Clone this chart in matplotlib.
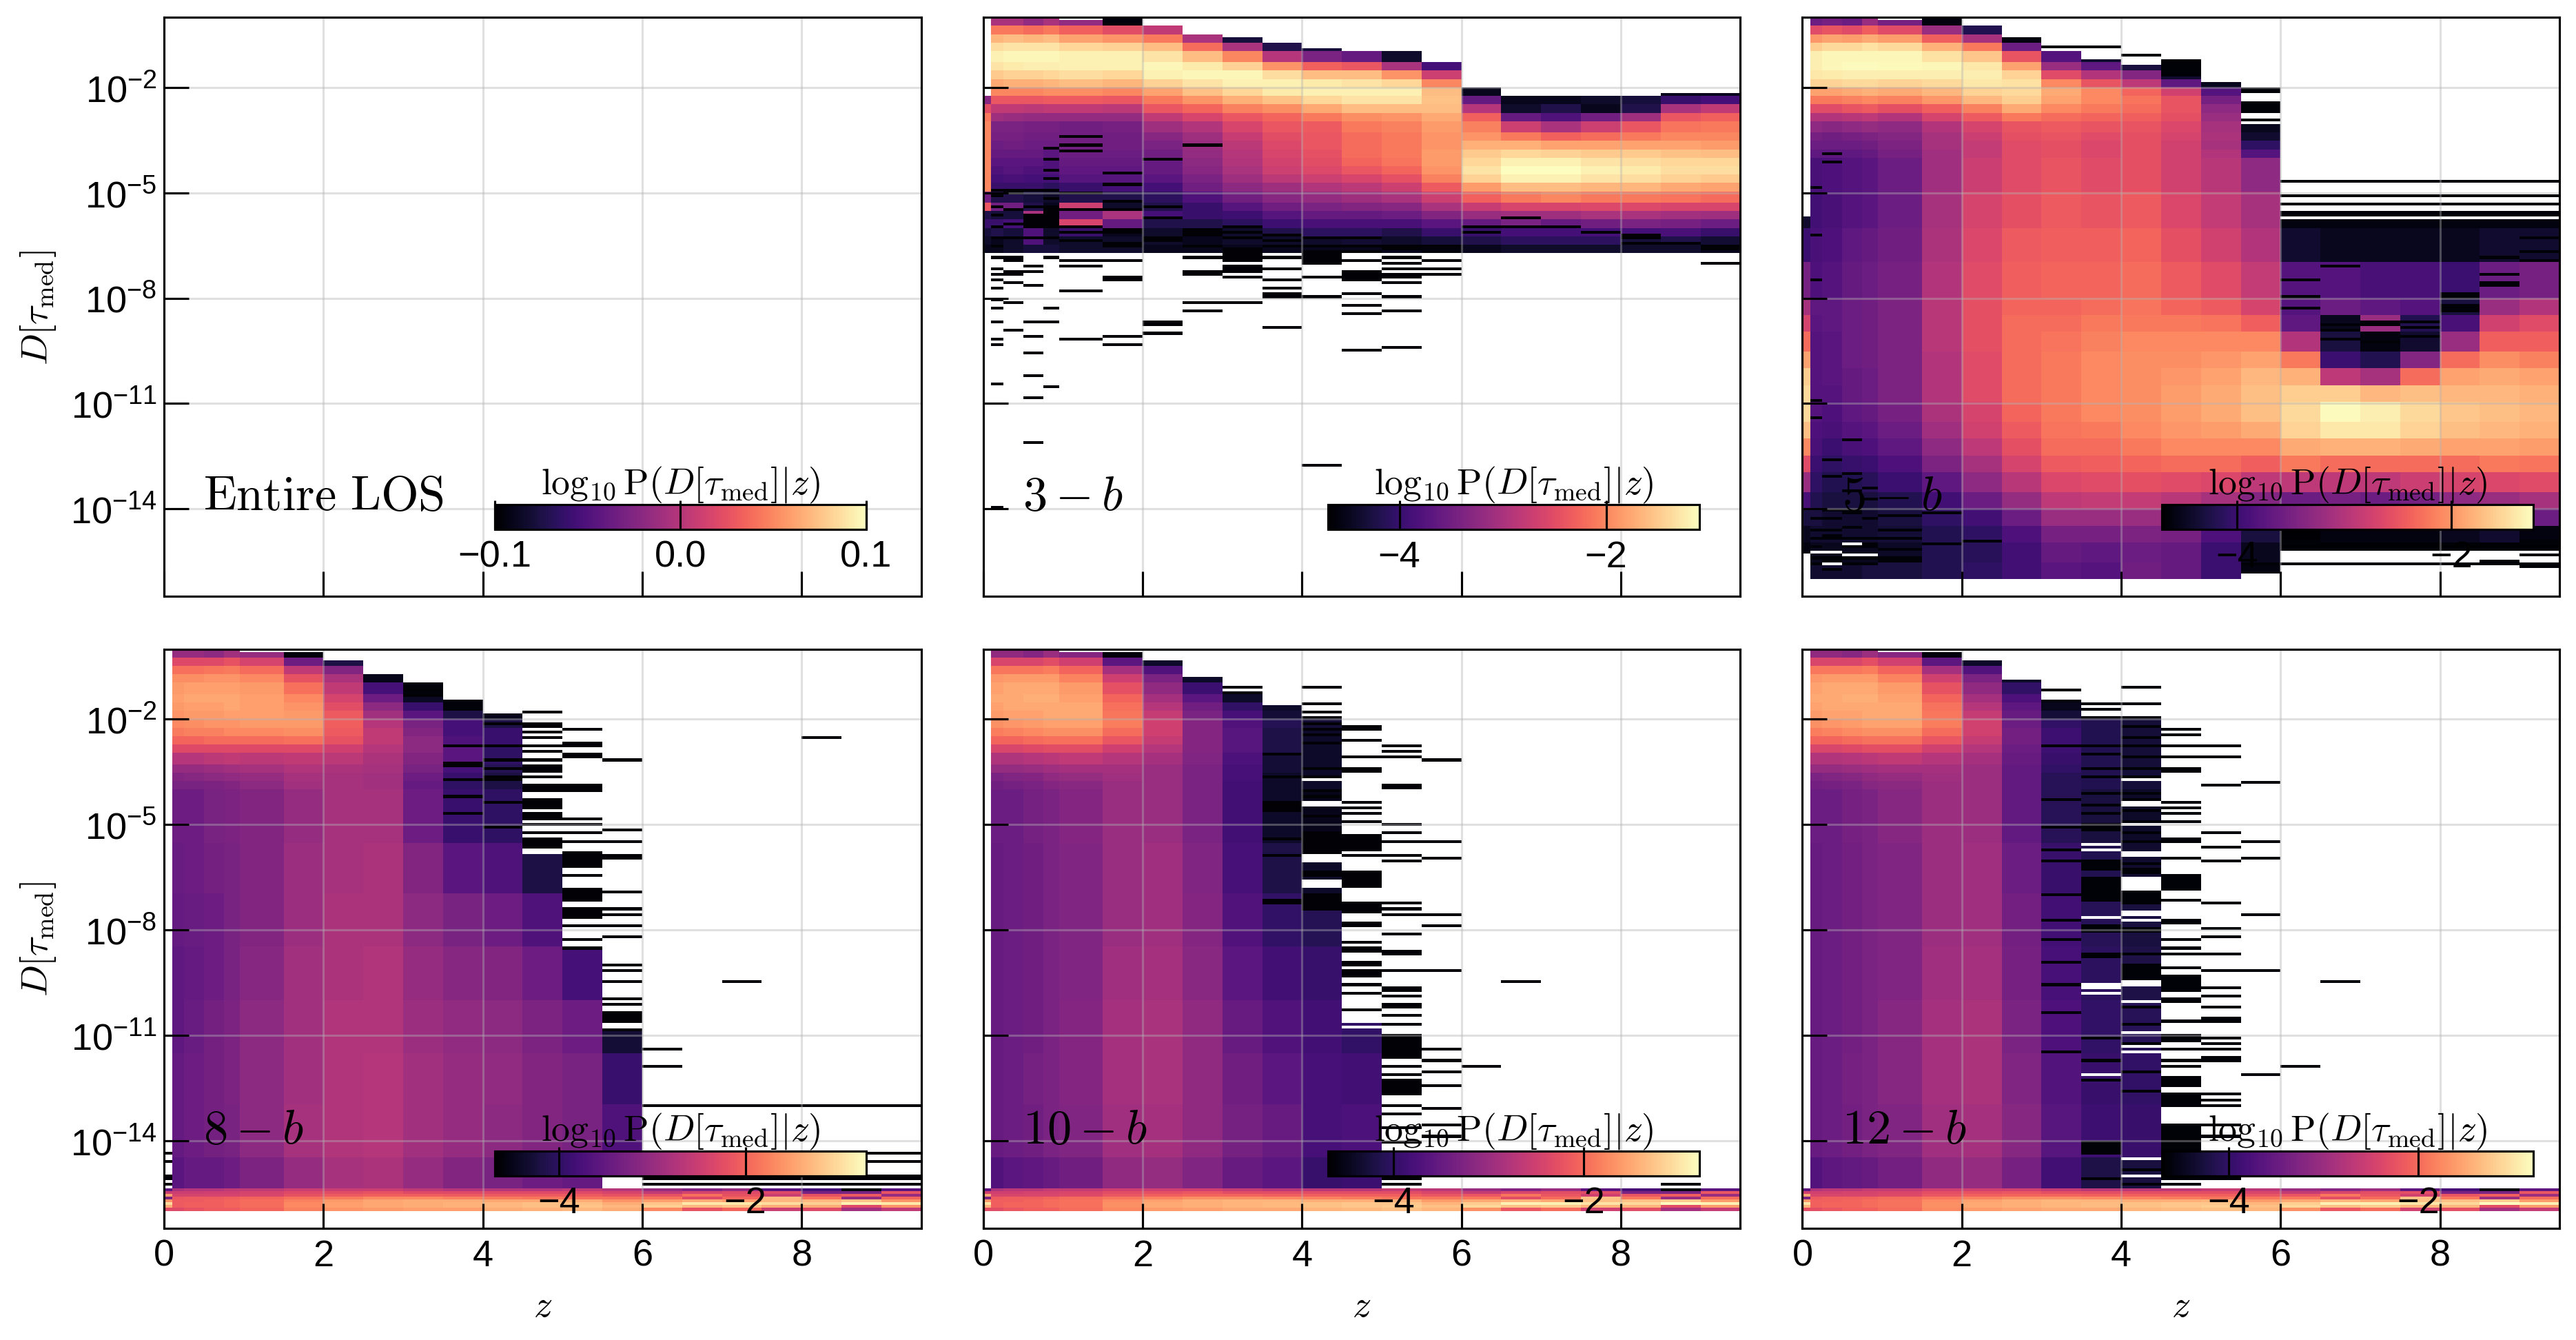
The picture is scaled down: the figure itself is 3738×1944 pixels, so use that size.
from __future__ import annotations

import matplotlib

matplotlib.use("Agg")
import numpy as np
from matplotlib import pyplot as plt
from matplotlib.cm import ScalarMappable
from matplotlib.colors import Normalize
from matplotlib.ticker import NullLocator

plt.rcParams["font.family"] = ["Liberation Sans", "DejaVu Sans"]
plt.rcParams["mathtext.fontset"] = "cm"
plt.rcParams["axes.linewidth"] = 0.75

Z_EDGES = [0, 0.1, 0.25, 0.5, 0.75, 0.95, 1.5, 2, 2.5, 3, 3.5, 4, 4.5, 5, 5.5, 6, 6.5, 7, 7.5, 8, 8.5, 9, 9.5]
ROW_STEP = 0.08
N_ROWS = 200
F = -4.6  # filler for table rows hidden by the column top

V_RANGES = [(-0.1, 0.1), (-4.69, -1.10), (-4.70, -1.235), (-4.69, -0.706), (-4.69, -0.785), (-4.70, -0.79)]

# log10 P per column, rows 0.25 dex wide from D=1 downwards
EDGES_3B = [-0.25 * i for i in range(28)]
BODY_3B = {
    0: [F] * 9 + [-3.3, -2.5, -2.1, -2.0, -2.0, -2.0, -2.0, -2.0, -2.0, -2.0, -2.0, -3.5, -2.4, -4.2, -4.0, -4.3, -4.4, -4.5],
    1: [-3.0, -2.1, -1.65, -1.35, -1.2, -1.3, -1.5, -1.75, -2.0, -2.4, -2.8, -3.1, -3.4, -3.45, -3.55, -3.6, -3.7, -3.8, -3.9, -4.0, -4.2, -3.5, -4.3, -4.0, -4.2, -4.5, -4.5],
    2: [-3.0, -2.1, -1.6, -1.3, -1.15, -1.25, -1.45, -1.7, -2.0, -2.4, -2.8, -3.15, -3.4, -3.45, -3.5, -3.6, -3.7, -3.75, -3.85, -4.0, -4.2, -3.5, -4.3, -3.9, -4.3, -4.4, -4.4],
    3: [-3.2, -2.2, -1.65, -1.3, -1.15, -1.22, -1.45, -1.7, -2.0, -2.4, -2.85, -3.2, -3.45, -3.5, -3.55, -3.6, -3.7, -3.8, -3.9, -4.0, -4.3, -4.2, -3.0, -4.5, -3.8, -3.8, -4.3],
    4: [-3.0, -2.1, -1.6, -1.3, -1.15, -1.22, -1.4, -1.65, -1.95, -2.35, -2.8, -3.2, -3.45, -3.5, -3.55, -3.7, -3.8, -3.8, -3.9, -4.1, -4.4, -4.5, -4.6, -4.5, -4.4, -4.4, -4.3],
    5: [-3.2, -2.3, -1.8, -1.4, -1.2, -1.2, -1.35, -1.6, -1.95, -2.35, -2.8, -3.2, -3.5, -3.5, -3.5, -3.55, -3.6, -3.65, -3.75, -4.0, -4.2, -2.7, -3.5, -2.6, -4.0, -4.4, -4.4],
    6: [-4.6, -2.5, -1.9, -1.45, -1.2, -1.2, -1.4, -1.65, -2.0, -2.4, -2.85, -3.2, -3.45, -3.5, -3.5, -3.55, -3.6, -3.65, -3.75, -3.9, -4.2, -4.4, -3.0, -3.6, -4.5, -4.4, -4.4],
    7: [F, -2.8, -2.1, -1.6, -1.3, -1.15, -1.2, -1.45, -1.8, -2.1, -2.4, -2.8, -3.1, -3.3, -3.4, -3.5, -3.6, -3.6, -3.7, -3.9, -4.1, -4.2, -3.9, -4.2, -4.4, -4.4, -4.5],
    8: [F, F, -3.0, -2.2, -1.6, -1.25, -1.15, -1.3, -1.55, -1.9, -2.25, -2.6, -2.95, -3.1, -3.15, -3.2, -3.25, -3.3, -3.4, -3.5, -3.8, -4.0, -4.0, -4.2, -4.4, -4.5, -4.5],
    9: [F, F, -4.3, -3.0, -2.0, -1.45, -1.15, -1.2, -1.4, -1.7, -2.05, -2.4, -2.6, -2.75, -2.85, -2.9, -2.95, -3.0, -3.1, -3.25, -3.5, -3.75, -3.95, -4.1, -4.4, -4.4, -4.5],
    10: [F, F, F, -4.2, -2.9, -1.9, -1.35, -1.2, -1.25, -1.55, -1.95, -2.25, -2.4, -2.5, -2.55, -2.6, -2.65, -2.7, -2.85, -3.1, -3.3, -3.5, -3.75, -3.95, -4.2, -4.4, -4.5],
    11: [F, F, F, -4.3, -3.4, -2.3, -1.6, -1.25, -1.2, -1.4, -1.75, -2.1, -2.35, -2.4, -2.4, -2.45, -2.5, -2.55, -2.7, -2.95, -3.2, -3.4, -3.6, -3.85, -4.1, -4.4, -4.5],
    12: [F, F, F, -4.4, -3.6, -2.4, -1.6, -1.3, -1.2, -1.3, -1.6, -1.95, -2.1, -2.2, -2.2, -2.2, -2.25, -2.4, -2.6, -2.85, -3.1, -3.35, -3.6, -3.85, -4.1, -4.35, -4.5],
    13: [F, F, F, -4.6, -4.4, -3.0, -1.9, -1.4, -1.2, -1.3, -1.6, -1.9, -2.05, -2.1, -2.1, -2.1, -2.15, -2.25, -2.45, -2.7, -3.0, -3.3, -3.55, -3.85, -4.2, -4.4, -4.5],
    14: [F, F, F, F, F, -3.9, -2.7, -2.0, -1.6, -1.55, -1.6, -1.75, -1.85, -1.9, -1.9, -1.85, -1.85, -1.9, -2.05, -2.35, -2.7, -3.0, -3.35, -3.7, -4.0, -4.3, -4.6],
    15: [F] * 8 + [-4.5, -3.6, -2.9, -2.3, -2.05, -1.9, -1.7, -1.5, -1.4, -1.3, -1.45, -1.85, -2.3, -2.75, -3.15, -3.6, -4.0, -4.2, -4.5],
    16: [F] * 9 + [-4.5, -4.4, -3.6, -2.7, -2.1, -1.7, -1.4, -1.2, -1.1, -1.2, -1.6, -2.1, -2.6, -3.1, -3.4, -3.9, -4.1, -4.4],
    17: [F] * 9 + [-4.5, -4.2, -3.8, -3.0, -2.3, -1.8, -1.45, -1.2, -1.1, -1.2, -1.6, -2.0, -2.6, -3.1, -3.6, -3.9, -4.1, -4.4],
    18: [F] * 9 + [-4.4, -4.5, -3.5, -2.7, -2.2, -1.8, -1.5, -1.3, -1.2, -1.3, -1.65, -2.1, -2.55, -3.0, -3.5, -3.9, -4.1, -4.4],
    19: [F] * 9 + [-4.3, -4.2, -3.1, -2.4, -2.1, -1.8, -1.5, -1.35, -1.25, -1.35, -1.65, -2.1, -2.55, -3.0, -3.4, -3.9, -4.3, -4.4],
    20: [F] * 8 + [-4.5, -4.0, -3.0, -2.4, -2.15, -2.0, -1.8, -1.55, -1.4, -1.35, -1.45, -1.75, -2.15, -2.6, -3.05, -3.45, -3.85, -4.2, -4.4],
    21: [F] * 8 + [-4.5, -3.9, -2.8, -2.3, -2.1, -2.0, -1.85, -1.6, -1.4, -1.35, -1.5, -1.8, -2.2, -2.6, -3.1, -3.55, -4.0, -4.35, -4.5],
}
TOPS_3B = [-2.26, 0, 0, 0, 0, -0.06, 0, -0.27, -0.5, -0.54, -0.74, -0.85, -0.93, -0.99, -1.25, -2.0, -2.26, -2.26, -2.26, -2.26, -2.2, -2.2]
BOTTOMS_3B = [-6.68] * 22
STRIPES_3B = {
    1: [-4.9, -5.07, -5.36, -5.64, -5.97, -6.25, -6.53, -6.82, -7.18, -7.33, -7.52, -7.72, -8.02, -8.27, -8.71, -9.17, -9.32, -10.4, -13.95],
    2: [-4.88, -5.02, -5.47, -5.86, -6.31, -6.8, -6.9, -7.25, -7.33, -7.59, -8.11, -8.9],
    3: [-4.9, -5.36, (-5.6, -5.97), -6.25, -7.07, -7.25, -7.64, -8.64, -9.11, -9.57, -10.23, -10.84, -12.1],
    4: [-3.76, -4.06, -4.34, -4.62, -4.88, -5.12, (-5.36, -5.97), -6.25, -6.8, -8.25, -8.71, -10.5],
    5: [-3.38, -3.67, -3.78, -5.02, -5.5, -5.97, -6.14, -6.37, -6.91, -7.07, -7.79, -9.17],
    6: [-4.4, -4.77, -5.24, -5.47, (-5.97, -6.14), -6.4, -6.54, -6.91, (-7.38, -7.48), -9.11, -9.32],
    7: [-4.0, -5.36, -5.69, (-6.26, -6.39), -8.64, -8.78, -9.04],
    8: [-3.64, (-6.03, -6.26), -6.54, -6.8, (-7.18, -7.32), -8.11, (-8.3, -8.42)],
    9: [-5.97, -6.14, -6.31, (-6.56, -6.93), (-7.02, -7.28), -7.38, -8.11],
    10: [-6.2, -6.37, -6.54, -6.83, -7.18, -7.52, -7.72, (-7.86, -7.98), -8.85],
    11: [-6.26, -6.48, (-6.62, -7.0), -7.38, -7.97, -12.75],
    12: [-6.26, -6.54, -6.7, (-6.88, -6.98), (-7.18, -7.5), -7.86, -8.18, -8.45, -9.5],
    13: [-6.48, -6.6, -6.82, -6.99, -7.12, (-7.3, -7.46), -7.59, -7.92, -8.39, -9.44],
    14: [-6.54, -6.88, -7.12, -7.33],
    15: [-5.92, -6.14],
    16: [-5.69, -5.97],
    17: [-5.92, -5.97],
    18: [-6.09],
    19: [(-6.14, -6.31), -6.4],
    20: [-6.4],
    21: [-6.48, -6.6, -6.99],
}
GAPS_3B = {}

# rows 0.25 dex to 1e-4, then one dex to 1e-8, then half a dex
EDGES_5B = [-0.25 * i for i in range(17)] + [-5, -6, -7, -8] + [-8 - 0.5 * i for i in range(1, 17)]
BODY_5B = {
    0: [F] * 17 + [-4.4, -4.0, -3.5, -3.1, -2.7, -2.3, -1.9, -1.6, -1.5, -1.5, -1.7, -2.1, -2.6, -3.2, -3.9, -4.3, -4.5, -4.6, -4.6],
    1: [-3.6, -2.6, -2.0, -1.6, -1.35, -1.35, -1.4, -1.55, -1.9, -2.2, -2.6, -3.0, -3.3, -3.5, -3.6, -3.7, -3.9, -3.95, -3.9, -3.85, -3.7, -3.75, -3.8, -3.8, -3.8, -3.8, -3.8, -3.85, -3.9, -4.0, -4.1, -4.2, -4.3, -4.4, -4.5, -4.4],
    2: [-3.5, -2.5, -1.9, -1.5, -1.3, -1.28, -1.38, -1.55, -1.9, -2.2, -2.6, -3.0, -3.35, -3.55, -3.6, -3.7, -3.85, -3.9, -3.85, -3.8, -3.7, -3.7, -3.75, -3.75, -3.75, -3.8, -3.85, -3.9, -4.0, -4.1, -4.2, -4.3, -4.4, -4.4, -4.5, -4.4],
    3: [-3.6, -2.6, -1.95, -1.5, -1.3, -1.25, -1.35, -1.5, -1.85, -2.15, -2.5, -2.95, -3.3, -3.5, -3.6, -3.7, -3.8, -3.8, -3.7, -3.65, -3.6, -3.6, -3.6, -3.6, -3.65, -3.65, -3.7, -3.8, -3.9, -4.05, -4.2, -4.3, -4.4, -4.4, -4.5, -4.4],
    4: [-3.2, -2.4, -1.85, -1.45, -1.3, -1.25, -1.35, -1.5, -1.8, -2.1, -2.45, -2.9, -3.25, -3.45, -3.55, -3.65, -3.75, -3.75, -3.65, -3.6, -3.55, -3.55, -3.55, -3.55, -3.6, -3.6, -3.65, -3.75, -3.85, -4.0, -4.15, -4.3, -4.4, -4.4, -4.5, -4.3],
    5: [-3.5, -2.6, -1.95, -1.5, -1.3, -1.27, -1.35, -1.55, -1.85, -2.15, -2.55, -3.0, -3.3, -3.4, -3.45, -3.5, -3.6, -3.6, -3.55, -3.5, -3.45, -3.45, -3.45, -3.45, -3.45, -3.45, -3.5, -3.6, -3.7, -3.85, -4.0, -4.2, -4.3, -4.35, -4.45, -4.3],
    6: [-4.6, -3.2, -2.4, -1.8, -1.45, -1.3, -1.35, -1.5, -1.75, -2.0, -2.4, -2.7, -3.0, -3.1, -3.1, -3.15, -3.15, -3.1, -3.05, -3.0, -2.95, -2.95, -2.95, -3.0, -3.0, -3.0, -3.05, -3.15, -3.3, -3.45, -3.7, -3.95, -4.1, -4.2, -4.2, -4.2],
    7: [F, -4.2, -3.1, -2.2, -1.65, -1.4, -1.35, -1.4, -1.55, -1.75, -2.15, -2.45, -2.7, -2.8, -2.85, -2.85, -2.8, -2.7, -2.65, -2.6, -2.55, -2.55, -2.55, -2.6, -2.6, -2.6, -2.7, -2.75, -2.9, -3.1, -3.3, -3.6, -3.95, -4.1, -4.15, -4.1],
    8: [F, F, -4.6, -3.6, -2.5, -1.9, -1.55, -1.45, -1.5, -1.6, -1.85, -2.2, -2.5, -2.55, -2.6, -2.6, -2.6, -2.55, -2.45, -2.4, -2.35, -2.3, -2.3, -2.3, -2.3, -2.3, -2.35, -2.45, -2.55, -2.7, -2.95, -3.25, -3.6, -3.85, -3.95, -3.95],
    9: [F, F, F, -4.5, -3.8, -3.2, -2.6, -2.1, -1.85, -1.9, -2.1, -2.3, -2.45, -2.5, -2.55, -2.55, -2.5, -2.45, -2.4, -2.35, -2.35, -2.3, -2.25, -2.2, -2.2, -2.2, -2.2, -2.25, -2.3, -2.45, -2.65, -2.9, -3.2, -3.5, -3.65, -3.75],
    10: [F, F, F, F, -4.4, -3.7, -3.0, -2.5, -2.1, -2.1, -2.2, -2.35, -2.5, -2.6, -2.65, -2.65, -2.6, -2.5, -2.4, -2.35, -2.3, -2.2, -2.15, -2.1, -2.1, -2.1, -2.1, -2.2, -2.3, -2.4, -2.6, -2.85, -3.2, -3.5, -3.7, -3.8],
    11: [F, F, F, F, -4.6, -4.3, -3.4, -2.9, -2.35, -2.25, -2.3, -2.4, -2.5, -2.55, -2.55, -2.55, -2.55, -2.45, -2.35, -2.3, -2.25, -2.2, -2.1, -2.05, -2.05, -2.05, -2.05, -2.1, -2.2, -2.35, -2.55, -2.85, -3.2, -3.45, -3.6, -3.55],
    12: [F, F, F, F, -4.7, -4.7, -4.4, -3.7, -2.75, -2.5, -2.5, -2.55, -2.65, -2.7, -2.75, -2.75, -2.75, -2.65, -2.55, -2.45, -2.35, -2.2, -2.1, -2.05, -2.0, -1.95, -1.95, -2.0, -2.1, -2.3, -2.6, -2.95, -3.25, -3.5, -3.65, -3.65],
    13: [F] * 7 + [-4.5, -3.8, -3.5, -3.3, -3.2, -3.1, -3.05, -3.1, -3.0, -2.95, -2.85, -2.75, -2.6, -2.45, -2.25, -2.1, -2.0, -1.9, -1.85, -1.85, -1.95, -2.1, -2.3, -2.65, -3.1, -3.5, -3.85, -4.0, -4.0],
    14: [F] * 12 + [-4.5, -4.4, -4.1, -3.8, -3.3, -3.1, -3.0, -2.85, -2.7, -2.4, -2.1, -1.9, -1.75, -1.7, -1.7, -1.85, -2.1, -2.4, -2.9, -3.4, -3.9, -4.3, -4.5, -4.6],
    15: [F] * 17 + [-4.6, -4.4, -3.8, -3.8, -3.7, -3.0, -2.2, -1.8, -1.6, -1.5, -1.55, -1.85, -2.2, -2.9, -3.6, -4.6, -4.7, -4.7],
    16: [F] * 17 + [-4.6, -4.5, -3.8, -3.6, -4.5, -4.3, -4.0, -2.9, -1.6, -1.25, -1.4, -1.8, -2.3, -2.9, -3.5, -4.5, -4.6, -4.7],
    17: [F] * 17 + [-4.6, -4.5, -3.9, -3.7, -3.2, -4.6, -4.2, -3.1, -1.75, -1.35, -1.4, -1.8, -2.3, -2.9, -3.6, -4.5, -4.6, -4.7],
    18: [F] * 17 + [-4.6, -4.5, -3.9, -3.8, -4.2, -4.4, -3.4, -2.3, -1.7, -1.5, -1.55, -1.85, -2.3, -2.8, -3.5, -4.5, -4.6, -4.7],
    19: [F] * 17 + [-4.6, -4.5, -4.0, -4.3, -3.9, -3.2, -2.3, -1.9, -1.75, -1.65, -1.7, -1.9, -2.3, -2.7, -3.3, -4.4, -4.5, -4.7],
    20: [F] * 17 + [-4.6, -4.4, -3.6, -3.2, -2.75, -2.4, -2.05, -1.85, -1.75, -1.7, -1.75, -1.9, -2.2, -2.65, -3.2, -3.9, -4.4, -4.7],
    21: [F] * 17 + [-4.6, -4.4, -3.5, -3.0, -2.6, -2.4, -2.15, -1.9, -1.8, -1.75, -1.8, -1.95, -2.25, -2.6, -3.1, -3.6, -4.6, -4.7],
}
TOPS_5B = [-5.7, 0, -0.02, 0, 0, -0.05, 0, -0.27, -0.54, -0.95, -1.2, -1.36, -1.2, -1.81, -3.05] + [-5.75] * 7
BOTTOMS_5B = [-15.3] + [-15.96] * 13 + [-15.83] + [-15.1] * 7
WIDE_LINES_5B = [-4.66, -5.07, -5.3, -5.52, -5.64, -15.15, -15.55]
STRIPES_5B = {
    1: [-4.8, -6.2, -7.5, -10.9, -11.4, -14.31, -14.59, -14.82, -15.1, -15.38, -15.55],
    2: [-3.85, -4.15, -12.6, -13.1, -14.0, -14.31, -14.59, (-14.75, -14.9), (-15.38, -15.48), -15.7],
    3: [-12.0, -13.0, -13.45, (-14.0, -14.2), -14.5, -14.82, -15.1, -15.38, -15.55],
    4: [-13.4, -13.7, -14.3, -14.8, (-15.0, -15.1), -15.38, -15.55],
    5: [-14.2, -14.6, -14.8, (-15.1, -15.2), (-15.38, -15.5)],
    6: [-14.1, -15.0],
    7: [-14.9],
    8: [],
    9: [-0.87],
    10: [-0.87],
    11: [-1.08],
    12: [(-1.3, -1.65)],
    13: [],
    14: [-2.0, -2.15, -2.4, (-2.52, -2.76), -2.9, -15.55],
    15: [-7.52, -7.95, -8.25, -14.9, (-14.95, -15.05)],
    16: [-7.11, -8.73, -8.94, -9.13],
    17: [-8.64, -8.78, -9.27],
    18: [-8.64, -8.84, -9.11],
    19: [-7.86, -7.97, (-8.16, -8.36), -15.0],
    20: [-6.8, -7.33, (-7.55, -7.7), -15.45],
    21: [-6.31, -6.65, -6.88, (-14.9, -15.05), -15.35, -15.65],
}
GAPS_5B = {
    1: [-15.25],
    2: [-15.27, -15.58],
    3: [-15.04, -15.3],
    4: [-15.3],
    14: [-3.02],
}

# rows 0.25 dex to 1e-4, then 1.5 dex down to the bright band
EDGES_LOWER = [-0.25 * i for i in range(17)] + [-5.5, -7, -8.5, -10, -11.5, -13, -14.5, -15.36]
BODY_8B = {
    1: [-3.0, -2.3, -1.9, -1.65, -1.55, -1.5, -1.55, -1.6, -1.7, -1.8, -2.0, -2.3, -2.7, -3.0, -3.2, -3.3, -3.4, -3.45, -3.5, -3.55, -3.55, -3.5, -3.5, -3.6],
    2: [-3.0, -2.3, -1.9, -1.65, -1.5, -1.45, -1.5, -1.55, -1.65, -1.75, -2.0, -2.3, -2.7, -3.0, -3.15, -3.3, -3.4, -3.4, -3.45, -3.5, -3.45, -3.4, -3.4, -3.5],
    3: [-3.1, -2.3, -1.85, -1.6, -1.5, -1.45, -1.5, -1.55, -1.6, -1.75, -1.95, -2.3, -2.65, -2.95, -3.1, -3.25, -3.3, -3.35, -3.4, -3.4, -3.35, -3.35, -3.35, -3.5],
    4: [-2.9, -2.2, -1.8, -1.6, -1.5, -1.45, -1.45, -1.5, -1.6, -1.7, -1.95, -2.3, -2.6, -2.9, -3.05, -3.2, -3.25, -3.3, -3.3, -3.3, -3.25, -3.25, -3.3, -3.4],
    5: [-3.0, -2.4, -1.95, -1.7, -1.55, -1.5, -1.5, -1.5, -1.55, -1.7, -1.95, -2.3, -2.65, -2.85, -3.0, -3.1, -3.2, -3.2, -3.2, -3.15, -3.1, -3.1, -3.1, -3.25],
    6: [-4.6, -3.4, -2.6, -2.2, -1.9, -1.7, -1.6, -1.55, -1.55, -1.65, -1.9, -2.3, -2.6, -2.75, -2.85, -2.9, -3.0, -2.95, -2.95, -2.9, -2.9, -2.9, -2.85, -3.0],
    7: [F, -4.2, -3.2, -2.8, -2.6, -2.4, -2.25, -2.1, -2.05, -2.1, -2.2, -2.45, -2.65, -2.8, -2.85, -2.85, -2.85, -2.85, -2.8, -2.8, -2.75, -2.75, -2.75, -2.85],
    8: [F, F, F, -4.5, -3.8, -3.4, -3.1, -2.9, -2.7, -2.6, -2.6, -2.7, -2.8, -2.85, -2.9, -2.9, -2.85, -2.8, -2.8, -2.75, -2.75, -2.7, -2.7, -2.8],
    9: [F, F, F, F, -4.6, -4.4, -3.9, -3.6, -3.3, -3.2, -3.1, -3.1, -3.2, -3.3, -3.4, -3.5, -3.4, -3.2, -3.1, -3.0, -2.95, -2.9, -2.9, -3.0],
    10: [F] * 6 + [-4.6, -4.2, -3.8, -3.8, -3.7, -3.6, -3.6, -3.8, -3.9, -4.0, -3.9, -3.6, -3.3, -3.15, -3.05, -3.0, -3.0, -3.2],
    11: [F] * 7 + [-4.5, -4.2, -3.9, -3.9, -4.0, -4.0, -4.1, -4.2, -4.2, -4.0, -3.7, -3.4, -3.2, -3.1, -3.05, -3.1, -3.3],
    12: [F] * 16 + [F, -4.2, -3.7, -3.4, -3.25, -3.2, -3.2, -3.4],
    13: [F] * 16 + [F, F, -4.4, -3.8, -3.4, -3.3, -3.3, -3.5],
    14: [F] * 16 + [F, F, F, F, -4.3, -3.9, -3.7, F],
}
TOPS_8B = [-16, 0, 0, 0, -0.02, -0.1, -0.05, -0.33, -0.72, -0.97, -1.45, -1.81, -5.81, -8.55, -10.9]
BOTTOMS_8B = [-16] + [-15.36] * 13 + [-14.3]
STRIPES_8B = {
    0: [-14.36, -14.6, (-15.0, -15.1), -15.25],
    9: [-1.15, -1.3],
    10: [-2.73, -3.2, -3.3, -3.7, -4.2, -4.7],
    11: [-2.15, -2.73, -3.12, -3.37, -3.63, -3.76, -4.33, -5.04],
    12: [-1.81, (-2.1, -2.25), -2.37, -2.54, -2.73, -2.92, -3.12, (-3.3, -3.5), -3.6, (-3.86, -4.08), (-4.27, -4.55), (-4.65, -4.85), (-4.95, -5.05), -5.2, (-5.4, -5.7)],
    13: [-2.27, (-2.65, -2.78), -3.0, -3.05, (-3.86, -4.08), -4.8, -5.0, -5.25, -5.5, (-5.8, -6.2), -6.4, -6.55, (-6.77, -7.2), (-7.4, -7.65), -7.85, -8.25, -8.5],
    14: [-3.14, -5.12, -5.45, -5.85, -5.97, -6.9, -7.37, -7.58, -7.91, -8.18, -8.97, -9.14, -9.5, -9.97, -10.1, (-10.35, -10.65), -10.8],
    15: [-11.36, -11.88, -13.0, -14.36, -14.6, (-15.0, -15.1), -15.25],
    16: [-13.0, -14.36, -14.6, (-15.0, -15.1), -15.25],
    17: [-9.5, -13.0, -14.36, -14.6, (-15.0, -15.1), -15.25],
    18: [-13.0, -14.36, -14.6, (-15.0, -15.1), -15.25],
    19: [-2.55, -13.0, -14.36, -14.6, (-15.0, -15.1), -15.25],
    20: [-13.0, -14.36, -14.6, (-15.0, -15.1), -15.25],
    21: [-13.0, -14.36, -14.6, (-15.0, -15.1), -15.25],
}
GAPS_8B = {12: [-4.6, -4.9, -5.3], 13: [-5.7, -6.3, -6.5, -7.3]}

BODY_10B = {
    1: [-3.1, -2.4, -1.9, -1.65, -1.55, -1.5, -1.55, -1.6, -1.7, -1.85, -2.05, -2.4, -2.8, -3.05, -3.3, -3.4, -3.45, -3.5, -3.5, -3.5, -3.5, -3.5, -3.5, -3.7],
    2: [-3.1, -2.4, -1.9, -1.6, -1.5, -1.5, -1.5, -1.55, -1.65, -1.8, -2.05, -2.4, -2.8, -3.05, -3.25, -3.35, -3.45, -3.45, -3.45, -3.45, -3.45, -3.45, -3.45, -3.6],
    3: [-3.2, -2.4, -1.9, -1.6, -1.5, -1.45, -1.5, -1.55, -1.6, -1.75, -2.0, -2.35, -2.75, -3.0, -3.2, -3.3, -3.35, -3.4, -3.4, -3.4, -3.4, -3.35, -3.4, -3.55],
    4: [-3.0, -2.3, -1.85, -1.6, -1.5, -1.45, -1.5, -1.5, -1.55, -1.7, -1.95, -2.3, -2.7, -2.95, -3.1, -3.2, -3.3, -3.3, -3.3, -3.3, -3.3, -3.3, -3.3, -3.5],
    5: [-3.2, -2.5, -2.05, -1.8, -1.6, -1.55, -1.5, -1.5, -1.55, -1.7, -1.95, -2.3, -2.65, -2.9, -3.05, -3.15, -3.2, -3.25, -3.25, -3.25, -3.2, -3.2, -3.25, -3.4],
    6: [-4.6, -3.6, -2.9, -2.5, -2.25, -2.05, -1.95, -1.9, -1.85, -2.0, -2.2, -2.5, -2.75, -2.9, -2.95, -3.0, -3.0, -3.0, -3.0, -2.95, -2.9, -2.9, -2.95, -3.1],
    7: [F, -4.4, -3.7, -3.3, -3.1, -2.9, -2.75, -2.6, -2.5, -2.5, -2.6, -2.75, -2.9, -3.0, -3.0, -3.0, -3.0, -2.95, -2.95, -2.9, -2.85, -2.85, -2.9, -3.05],
    8: [F, F, F, -4.4, -3.9, -3.6, -3.4, -3.3, -3.2, -3.2, -3.2, -3.2, -3.25, -3.3, -3.3, -3.3, -3.3, -3.25, -3.2, -3.15, -3.1, -3.1, -3.1, -3.25],
    9: [F, F, F, F, -4.5, -4.4, -4.0, -3.8, -3.7, -3.65, -3.65, -3.65, -3.75, -3.8, -3.8, -3.85, -3.85, -3.8, -3.7, -3.6, -3.5, -3.4, -3.35, -3.5],
    10: [F] * 6 + [-4.4, -4.3, -4.1, -4.2, -4.2, -4.2, -4.3, -4.3, -4.4, -4.4, -4.4, -4.2, -4.0, -3.85, -3.7, -3.6, -3.5, -3.6],
    11: [F] * 8 + [-4.3, -4.4, -4.4, -4.4, -4.4, -4.4, -4.4, -4.4, -4.5, -4.4, -4.1, -3.95, -3.85, -3.8, -3.8, -3.95],
    12: [F] * 20 + [-4.0, -3.85, -3.75, -3.9],
}
TOPS_10B = [-16, 0, 0, 0, -0.02, -0.1, -0.05, -0.33, -0.78, -1.32, -1.6, -1.96, -10.68]
BOTTOMS_10B = [-16] + [-15.36] * 12
STRIPES_10B = {
    0: [],
    9: [-1.06, -1.22],
    10: [(-4.33, -4.65), -5.36, -5.9, (-7.1, -7.3), -3.0, -3.6],
    11: [-1.06, -1.55, -1.81, -2.1, -2.28, -2.47, -2.67, -3.37, -3.63, -4.0, -4.2, -4.78, (-5.2, -5.8), (-6.3, -6.45), (-7.0, -7.4)],
    12: [-2.2, -2.3, -2.6, -3.09, (-3.38, -3.5), -4.33, -4.55, -4.72, -4.94, (-5.3, -5.75), -5.87, (-6.3, -6.8), (-7.2, -7.55), (-7.75, -7.9), -8.35, (-8.5, -8.65), (-8.85, -9.0), (-9.15, -9.35), -9.55, -9.8, -10.3],
    13: [-2.73, -2.92, -3.08, -3.9, -3.98, -4.97, -5.26, -5.51, -5.85, -6.03, -7.26, -7.42, -7.58, -8.14, (-8.55, -8.75), -9.2, (-9.6, -9.75), -9.9, (-10.05, -10.25), -10.45, -10.7, (-10.95, -11.65), -11.85, -12.1, (-12.25, -12.7), -12.97, -13.2, -13.65, -14.05, (-14.6, -14.9), -15.05, -15.2],
    14: [-3.14, -5.45, -5.97, -7.58, -7.91, -9.17, -11.36, -11.74, -12.05, -12.41, -13.1, -13.56, -13.88],
    15: [-11.88],
    16: [-9.5],
    20: [-15.27],
}
GAPS_10B = {11: [(-3.68, -3.78), (-4.33, -4.5), (-5.82, -6.1), (-6.6, -6.8)], 12: [-10.72]}

# the low-redshift columns of 12-b follow 10-b closely
BODY_12B = {
    **{col: BODY_10B[col] for col in range(1, 8)},
    8: [F, F, F, -4.4, -4.0, -3.75, -3.6, -3.5, -3.45, -3.4, -3.4, -3.45, -3.5, -3.55, -3.55, -3.55, -3.55, -3.45, -3.4, -3.35, -3.3, -3.25, -3.2, -3.35],
    9: [F] * 6 + [-4.5, -4.3, -4.0, -3.9, -3.9, -3.9, -3.95, -4.0, -4.1, -4.1, -4.1, -3.95, -3.85, -3.8, -3.75, -3.7, -3.65, -3.85],
    10: [F] * 8 + [-4.15, -4.15, -4.15, -4.15, -4.15, -4.15, -4.15, -4.15, -4.25, -4.15, -4.1, -4.05, -4.0, -3.95, -3.9, -4.2],
    11: [F] * 8 + [-4.3, -4.3, -4.3, -4.3, -4.3, -4.3, -4.3, -4.3, -4.4, -4.35, -4.25, -4.2, -4.1, -4.0, -3.95, -4.25],
}
TOPS_12B = [-16, 0, 0, 0, -0.02, -0.1, -0.05, -0.33, -0.87, -1.45, -1.96, -1.96]
BOTTOMS_12B = [-16] + [-15.36] * 11
STRIPES_12B = {
    8: [],
    9: [-1.15, -2.73, -4.27, -5.04, -5.74, -6.06, -6.96, -7.73, -8.24, -8.88, -9.59, -10.36, -11.51],
    10: [-1.55, -1.7, -2.73, -3.0, -3.4, -3.6, -4.1, -4.4, -4.7, (-5.0, -5.2), (-6.0, -6.32), (-6.45, -7.22), (-7.86, -8.12), (-8.63, -8.82), -11.06, -11.7, -12.3, (-14.0, -14.4), -15.1],
    11: [-1.06, -1.55, -2.2, -2.5, -2.73, -3.1, -3.4, -3.6, -4.1, -4.3, -4.6, -4.9, -5.2, -5.45, -6.1, (-6.25, -6.4), (-6.85, -7.3), (-7.9, -8.1), -8.7, (-9.0, -9.4), -10.2, -10.7, -11.2, -12.0, -12.6, -14.8, -15.2],
    12: [-2.27, -2.4, -2.73, -3.09, (-3.35, -3.5), -4.33, -4.52, -4.69, -4.9, (-5.35, -5.55), -5.97, (-6.4, -6.85), -7.15, (-7.65, -7.85), -8.3, -8.5, -8.7, -9.07, (-9.25, -9.75), (-9.9, -10.05), -10.6, (-11.0, -11.2), -11.4, -11.7, -11.85, (-12.2, -12.5), (-12.65, -13.0), (-13.55, -14.4), -14.7, -14.9, -15.1, -15.25],
    13: [-2.73, -3.05, -3.9, -5.26, -5.66, -6.0, -7.26, -7.97, -8.18, -8.7, -9.17, -9.63, -9.88, -10.2, (-10.5, -10.65), -11.1, -11.25, -11.4, -11.6, -11.75, -12.7, -12.85, -13.0, -13.55, -13.88, -15.1],
    14: [-3.79, -5.45, -5.97, -7.58, -9.17, -12.1],
    15: [-11.88],
    16: [-9.5],
}
GAPS_12B = {
    10: [-5.55, -5.68, -7.63, -9.55, -9.63, -9.82, -12.15],
    11: [(-3.68, -3.72), (-4.35, -4.5), -4.98, (-5.8, -5.95), (-6.45, -6.85), (-7.42, -7.6), -7.75, (-9.45, -9.6), -10.03, -10.9, -11.35, -11.5, -14.5, -15.0],
}

# bright band at the very bottom of the three lower panels, eight rows per column
BAND = [
    [-3.6, -2.5, -1.5, -3.3, -1.6, -1.0, -1.4, -2.3],
    [-2.8, -2.5, -2.4, -2.15, -2.1, -2.1, -2.1, -2.3],
    [-2.7, -2.5, -2.4, -2.1, -2.1, -2.05, -2.05, -2.2],
    [-2.7, -2.45, -2.4, -2.1, -2.05, -2.05, -2.05, -2.1],
    [-2.6, -2.45, -2.4, -2.05, -2.0, -2.0, -2.0, -2.1],
    [-2.6, -2.4, -2.35, -2.0, -1.95, -1.95, -1.95, -2.0],
    [-2.5, -2.3, -2.2, -1.9, -1.75, -1.7, -1.7, -1.75],
    [-2.5, -2.25, -2.1, -1.8, -1.55, -1.5, -1.5, -1.6],
    [-2.5, -2.2, -2.05, -1.7, -1.45, -1.45, -1.45, -1.55],
    [-2.6, -2.3, -2.05, -1.7, -1.4, -1.4, -1.4, -1.5],
    [-2.7, -2.3, -2.1, -1.75, -1.4, -1.35, -1.35, -1.5],
    [-2.7, -2.3, -2.1, -1.8, -1.45, -1.3, -1.3, -1.4],
    [-2.7, -2.3, -2.1, -1.85, -1.45, -1.25, -1.25, -1.35],
    [-2.6, -2.3, -2.1, -1.9, -1.4, -1.25, -1.2, -1.3],
    [-2.7, -2.4, -2.2, -1.9, -1.6, -1.4, -1.3, -1.4],
    [-3.0, -2.6, -2.2, -1.9, -1.5, -1.2, -1.1, -1.7],
    [-3.2, -2.4, -1.9, -2.3, -1.4, -0.9, -1.3, -2.2],
    [-3.0, -2.3, -2.2, -2.0, -1.5, -0.9, -1.2, -2.0],
    [-3.6, -2.3, -2.5, -1.3, -1.3, -1.0, -1.4, -2.5],
    [-3.8, -3.3, -2.2, -1.9, -1.3, -1.1, -1.4, -2.3],
    [-4.6, -3.3, -2.1, -3.0, -1.2, -0.8, -2.3, -2.9],
    [-3.6, -2.2, -3.0, -2.0, -1.6, -0.9, -1.6, -2.6],
]

STRIPE_VALUE = -4.65


def rows_for(entry):
    centers = -(np.arange(N_ROWS) + 0.5) * ROW_STEP
    if isinstance(entry, tuple):
        return np.where((centers <= entry[0]) & (centers >= entry[1]))[0]
    return [int(min(-entry / ROW_STEP, N_ROWS - 1))]


def build_mesh(edges, body, tops, bottoms, stripes, gaps, band=None, wide_lines=()):
    mesh = np.full((N_ROWS, len(Z_EDGES) - 1), np.nan)
    centers = -(np.arange(N_ROWS) + 0.5) * ROW_STEP
    for col, values in body.items():
        for k, value in enumerate(values):
            rows = (centers <= edges[k]) & (centers > edges[k + 1])
            rows &= (centers <= tops[col]) & (centers >= bottoms[col])
            mesh[rows, col] = value
    for col, entries in stripes.items():
        for entry in entries:
            mesh[rows_for(entry), col] = STRIPE_VALUE
    for entry in wide_lines:
        mesh[rows_for(entry), 15:] = STRIPE_VALUE
    for col, entries in gaps.items():
        for entry in entries:
            mesh[rows_for(entry), col] = np.nan
    if band is not None:
        mesh[-len(band[0]):, :] = np.array(band).T
    return mesh


MESHES = [
    None,
    build_mesh(EDGES_3B, BODY_3B, TOPS_3B, BOTTOMS_3B, STRIPES_3B, GAPS_3B),
    build_mesh(EDGES_5B, BODY_5B, TOPS_5B, BOTTOMS_5B, STRIPES_5B, GAPS_5B, wide_lines=WIDE_LINES_5B),
    build_mesh(EDGES_LOWER, BODY_8B, TOPS_8B, BOTTOMS_8B, STRIPES_8B, GAPS_8B, band=BAND),
    build_mesh(EDGES_LOWER, BODY_10B, TOPS_10B, BOTTOMS_10B, STRIPES_10B, GAPS_10B, band=BAND),
    build_mesh(EDGES_LOWER, BODY_12B, TOPS_12B, BOTTOMS_12B, STRIPES_12B, GAPS_12B, band=BAND),
]
CBAR_TICKS = [[-0.1, 0.0, 0.1], [-4, -2], [-4, -2], [-4, -2], [-4, -2], [-4, -2]]
CBAR_X = [0.437, 0.4555, 0.475]
TEXTS = ["Entire LOS", "3-b", "5-b", "8-b", "10-b", "12-b"]

fig, axes = plt.subplots(2, 3, figsize=(12.46, 6.4833), sharex=True, sharey=True)
fig.subplots_adjust(left=0.0637, right=0.9936, top=0.9866, bottom=0.0833, wspace=0.082, hspace=0.0905)

y_edges = 10.0 ** (-np.arange(N_ROWS + 1) * ROW_STEP)
ytick_exp = [-2, -5, -8, -11, -14]

for i, ax in enumerate(axes.flat):
    vmin, vmax = V_RANGES[i]
    if MESHES[i] is not None:
        mappable = ax.pcolormesh(Z_EDGES, y_edges, MESHES[i], cmap="magma", vmin=vmin, vmax=vmax, rasterized=True)
    else:
        mappable = ScalarMappable(norm=Normalize(vmin, vmax), cmap="magma")
    ax.set_yscale("log")
    ax.set_xlim(0, 9.5)
    ax.set_ylim(10 ** -16.5, 1)
    ax.set_xticks([0, 2, 4, 6, 8])
    ax.set_yticks([10.0 ** e for e in ytick_exp])
    ax.set_yticklabels([rf"$\mathregular{{10^{{{e}}}}}$" for e in ytick_exp])
    ax.yaxis.set_minor_locator(NullLocator())
    ax.tick_params(direction="in", length=8.6, width=0.75, labelsize=13)
    ax.tick_params(axis="y", pad=2.5)
    ax.grid(True, color="#b3b3b3", alpha=0.4, lw=0.75)

    row, col = i // 3, i % 3
    if row == 1:
        ax.set_xlabel(r"$z$", fontsize=13)
        ax.xaxis.set_label_coords(0.5, -0.105)
    if col == 0:
        ax.set_ylabel(r"$D[\tau_{\mathrm{med}}]$", fontsize=13)
        ax.yaxis.set_label_coords(-0.14, 0.5)

    if i == 0:
        text = r"$\mathrm{Entire\ LOS}$"
    else:
        num, letter = TEXTS[i].split("-")
        text = rf"${num}-{letter}$"
    ax.text(0.052, 0.15 if row == 0 else 0.148, text, transform=ax.transAxes, fontsize=16.9, va="baseline", ha="left", zorder=6)

    cax = ax.inset_axes([CBAR_X[col], 0.116 if row == 0 else 0.091, 0.49, 0.0425], zorder=5)
    cbar = fig.colorbar(mappable, cax=cax, orientation="horizontal")
    cbar.set_ticks(CBAR_TICKS[i])
    if i == 0:
        cbar.set_ticklabels(["\u22120.1", "0.0", "0.1"])
    cbar.ax.tick_params(direction="in", length=10, width=0.75, labelsize=13, pad=3.5)
    cbar.outline.set_linewidth(0.75)
    cax.set_title(r"$\log_{10}\mathrm{P}(D[\tau_{\mathrm{med}}]|z)$", fontsize=12.9, pad=2)

fig.savefig("out.png", dpi=300)
